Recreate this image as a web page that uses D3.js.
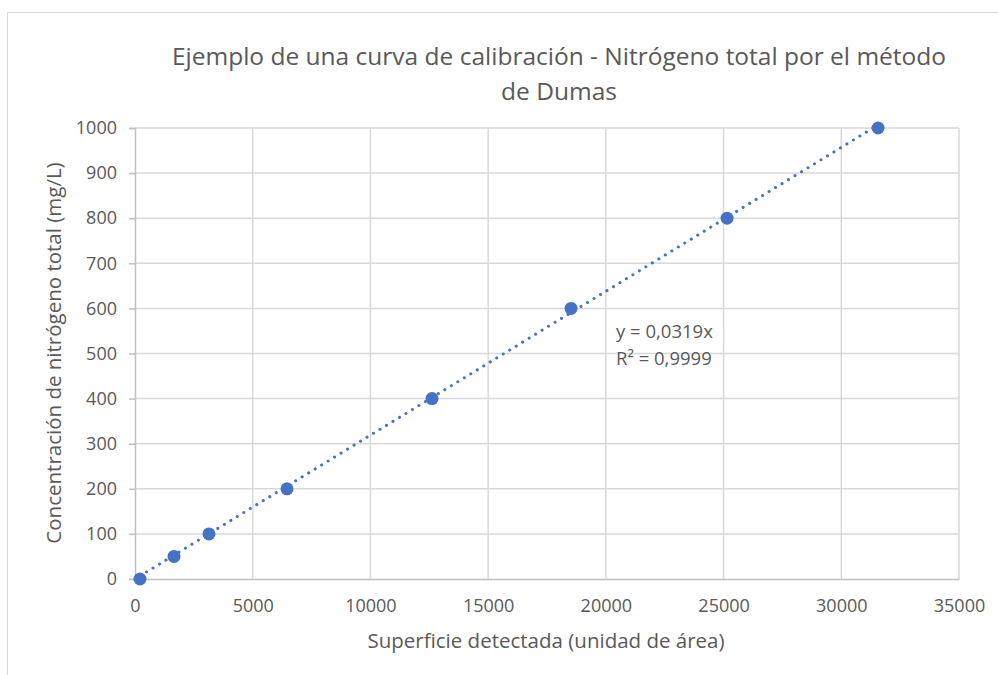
<!DOCTYPE html>
<html>
<head>
<meta charset="utf-8">
<script src="https://cdn.jsdelivr.net/npm/d3@7"></script>
<style>
  body { margin: 0; background: #fff; }
  svg { display: block; font-family: "Open Sans", sans-serif; }
</style>
</head>
<body>
<div id="chart"></div>
<script>
// calibration points
const surface = [212, 1657, 3143, 6457, 12617, 18522, 25149, 31563];
const concentration = [0, 50, 100, 200, 400, 600, 800, 1000];
const xTicks = [0, 5000, 10000, 15000, 20000, 25000, 30000, 35000];
const yTicks = [0, 100, 200, 300, 400, 500, 600, 700, 800, 900, 1000];
const slope = 0.0319;
const titleLines = ['Ejemplo de una curva de calibración - Nitrógeno total por el método', 'de Dumas'];
const equationLines = ['y = 0,0319x', 'R² = 0,9999'];

const width = 998, height = 675;
const margin = { top: 128, right: 39, bottom: 96, left: 135 };
const innerW = width - margin.left - margin.right;
const innerH = height - margin.top - margin.bottom;
const textColor = '#595959';
const blue = '#4472c4';

const svg = d3.select('#chart').append('svg')
  .attr('width', width)
  .attr('height', height);

// chart frame
svg.append('rect')
  .attr('x', 7.5).attr('y', 12.5)
  .attr('width', width).attr('height', height)
  .attr('fill', '#fff')
  .attr('stroke', '#d9d9d9');

svg.append('text')
  .attr('text-anchor', 'middle')
  .style('font-size', '24.5px')
  .style('fill', textColor)
  .selectAll('tspan')
  .data(titleLines)
  .enter().append('tspan')
    .attr('x', 559)
    .attr('y', (d, i) => 65 + i * 35)
    .text(d => d);

const g = svg.append('g')
  .attr('transform', `translate(${margin.left},${margin.top})`);

const x = d3.scaleLinear().domain([0, 35000]).range([0, innerW]);
const y = d3.scaleLinear().domain([0, 1000]).range([innerH, 0]);

// gridlines
g.append('g')
  .selectAll('line')
  .data(yTicks.slice(1))
  .enter().append('line')
    .attr('x1', 0).attr('x2', innerW)
    .attr('y1', d => y(d)).attr('y2', d => y(d))
    .attr('stroke', '#d9d9d9').attr('stroke-width', 1.5);

g.append('g')
  .selectAll('line')
  .data(xTicks.slice(1))
  .enter().append('line')
    .attr('x1', d => x(d)).attr('x2', d => x(d))
    .attr('y1', 0).attr('y2', innerH)
    .attr('stroke', '#d9d9d9').attr('stroke-width', 1.5);

// x axis
const xAxis = g.append('g')
  .attr('transform', `translate(0,${innerH})`)
  .call(d3.axisBottom(x).tickValues(xTicks).tickSize(0).tickPadding(20).tickFormat(d3.format('d')));
xAxis.select('.domain').attr('stroke', '#bfbfbf').attr('stroke-width', 1.5);
xAxis.selectAll('text').style('font-size', '18px').style('fill', textColor).style('font-family', '"Open Sans", sans-serif');

// y axis
const yAxis = g.append('g')
  .call(d3.axisLeft(y).tickValues(yTicks).tickSize(6).tickPadding(12).tickFormat(d3.format('d')));
yAxis.select('.domain').attr('stroke', '#bfbfbf').attr('stroke-width', 1.5);
yAxis.selectAll('.tick line').attr('stroke', '#bfbfbf').attr('stroke-width', 1.5);
yAxis.selectAll('text').style('font-size', '18px').style('fill', textColor).style('font-family', '"Open Sans", sans-serif');

// trendline through origin
const xMin = d3.min(surface), xMax = d3.max(surface);
g.append('line')
  .attr('x1', x(xMin)).attr('y1', y(slope * xMin))
  .attr('x2', x(xMax)).attr('y2', y(slope * xMax))
  .attr('stroke', blue)
  .attr('stroke-width', 3)
  .attr('stroke-linecap', 'round')
  .attr('stroke-dasharray', '0.1 7.5');

// points
g.selectAll('.pt')
  .data(surface)
  .enter().append('circle')
    .attr('class', 'pt')
    .attr('cx', d => x(d))
    .attr('cy', (d, i) => y(concentration[i]))
    .attr('r', 6.5)
    .attr('fill', blue);

// equation label
svg.append('text')
  .style('font-size', '18.5px')
  .style('fill', textColor)
  .selectAll('tspan')
  .data(equationLines)
  .enter().append('tspan')
    .attr('x', 616)
    .attr('y', (d, i) => 338 + i * 27)
    .text(d => d);

// axis titles
svg.append('text')
  .attr('x', 546).attr('y', 648)
  .attr('text-anchor', 'middle')
  .style('font-size', '20.5px')
  .style('fill', textColor)
  .text('Superficie detectada (unidad de área)');

svg.append('text')
  .attr('transform', 'translate(61,353) rotate(-90)')
  .attr('text-anchor', 'middle')
  .style('font-size', '20.5px')
  .style('fill', textColor)
  .text('Concentración de nitrógeno total (mg/L)');
</script>
</body>
</html>
